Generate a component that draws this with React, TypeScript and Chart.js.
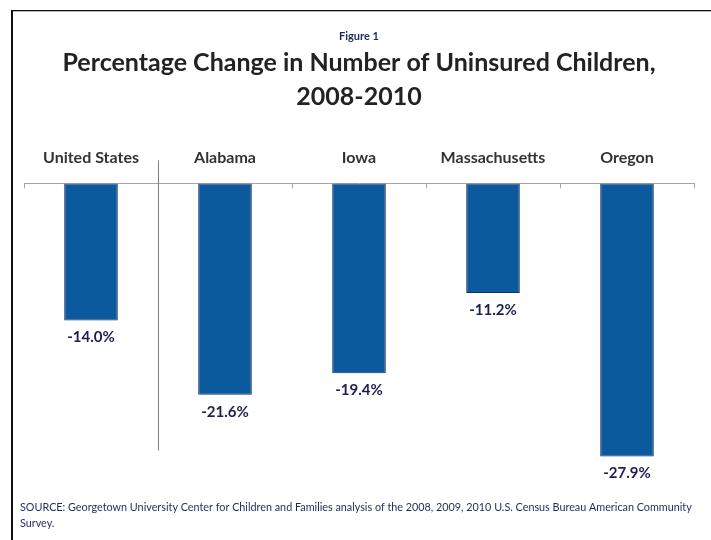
import React, { useEffect, useRef } from "react";
import { Chart, registerables } from "chart.js";

Chart.register(...registerables);

const categories = ["United States", "Alabama", "Iowa", "Massachusetts", "Oregon"];
const values = [-14.0, -21.6, -19.4, -11.2, -27.9];
const valueLabels = ["-14.0%", "-21.6%", "-19.4%", "-11.2%", "-27.9%"];
const figureLabel = "Figure 1";
const titleLines = ["Percentage Change in Number of Uninsured Children,", "2008-2010"];
const sourceLines = [
  "SOURCE: Georgetown University Center for Children and Families analysis of the 2008, 2009, 2010 U.S. Census Bureau American Community",
  "Survey.",
];

const FONT = "Lato, 'Open Sans', sans-serif";

const decorPlugin = {
  id: "decor",
  beforeDraw(chart: any) {
    const ctx = chart.ctx;
    ctx.save();
    ctx.fillStyle = "#ffffff";
    ctx.fillRect(0, 0, chart.width, chart.height);
    ctx.fillStyle = "#111111";
    ctx.fillRect(11, 10, 2, chart.height - 10);
    ctx.fillRect(11, 10, chart.width - 11, 1.3);
    ctx.restore();
  },
  afterDraw(chart: any) {
    const ctx = chart.ctx;
    const xs = chart.scales.x;
    const area = chart.chartArea;
    const n = categories.length;
    const half = (xs.getPixelForValue(1) - xs.getPixelForValue(0)) / 2;
    ctx.save();
    ctx.strokeStyle = "#a6a6a6";
    ctx.lineWidth = 1;
    for (let i = 0; i <= n; i++) {
      const x = Math.round(xs.getPixelForValue(0) - half + i * 2 * half) + 0.5;
      ctx.beginPath();
      ctx.moveTo(x, area.top);
      ctx.lineTo(x, area.top + 5);
      ctx.stroke();
    }
    const sx = Math.round(xs.getPixelForValue(0) + half) + 0.5;
    ctx.strokeStyle = "#7f7f7f";
    ctx.beginPath();
    ctx.moveTo(sx, area.top - 23);
    ctx.lineTo(sx, area.top + 267);
    ctx.stroke();

    const meta = chart.getDatasetMeta(0);
    ctx.fillStyle = "#1c1f52";
    ctx.font = "bold 15px " + FONT;
    ctx.textAlign = "center";
    ctx.textBaseline = "middle";
    meta.data.forEach((el: any, i: number) => {
      ctx.fillText(valueLabels[i], el.x, el.y + 17);
    });

    ctx.fillStyle = "#1f2a5c";
    ctx.font = "10.8px " + FONT;
    ctx.textAlign = "left";
    sourceLines.forEach((t, i) => {
      ctx.fillText(t, 20, 508 + i * 16);
    });
    ctx.restore();
  },
};

export default function App() {
  const ref = useRef<HTMLCanvasElement | null>(null);
  useEffect(() => {
    if (!ref.current) return;
    const chart = new Chart(ref.current, {
      type: "bar",
      data: {
        labels: categories,
        datasets: [
          {
            data: values,
            backgroundColor: "#0b5a9e",
            borderColor: "#1d2b5e",
            borderWidth: 1,
            borderSkipped: false,
            categoryPercentage: 1,
            barPercentage: 0.4,
          },
        ],
      },
      options: {
        animation: false,
        responsive: false,
        maintainAspectRatio: false,
        layout: { padding: { top: 10, left: 24, right: 17, bottom: 63 } },
        plugins: {
          legend: { display: false },
          tooltip: { enabled: false },
          title: {
            display: true,
            text: figureLabel,
            color: "#1f2a5c",
            font: { family: FONT, size: 11, weight: "bold" },
            padding: { top: 20, bottom: 3 },
          },
          subtitle: {
            display: true,
            text: titleLines,
            color: "#222222",
            font: { family: FONT, size: 25, weight: "bold", lineHeight: 1.36 },
            padding: { top: 0, bottom: 18 },
          },
        },
        scales: {
          x: {
            position: "top",
            grid: { display: false, drawOnChartArea: false, drawTicks: false },
            border: { display: true, color: "#a6a6a6", width: 1 },
            ticks: {
              color: "#333333",
              font: { family: FONT, size: 16, weight: "bold" },
              padding: 16,
              maxRotation: 0,
              autoSkip: false,
            },
          },
          y: {
            display: false,
            min: -30,
            max: 0,
          },
        },
      },
      plugins: [decorPlugin],
    });
    return () => chart.destroy();
  }, []);
  return (
    <div style={{ position: "absolute", left: 0, top: 0, width: 711, height: 540 }}>
      <canvas ref={ref} width={711} height={540} style={{ width: 711, height: 540 }} />
    </div>
  );
}
